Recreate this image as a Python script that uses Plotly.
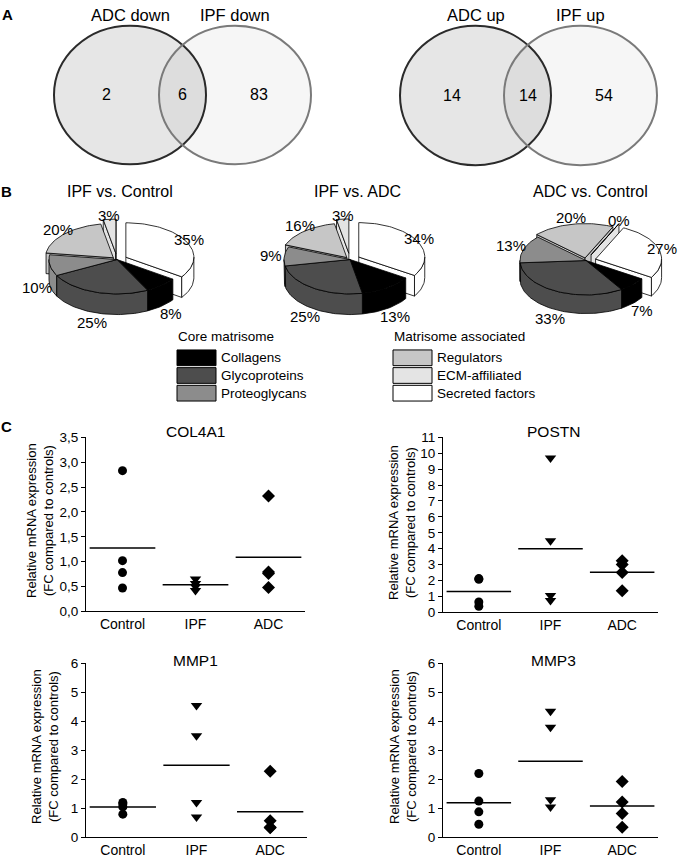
import math
import plotly.graph_objects as go

# ---------------- data ----------------
venn_labels_down = ["ADC down", "IPF down"]
venn_counts_down = [2, 6, 83]
venn_labels_up = ["ADC up", "IPF up"]
venn_counts_up = [14, 14, 54]

pie_titles = ["IPF vs. Control", "IPF vs. ADC", "ADC vs. Control"]
pie_categories = ["Secreted factors", "Collagens", "Glycoproteins",
                  "Proteoglycans", "Regulators", "ECM-affiliated"]
ipf_vs_control = [35, 8, 25, 10, 20, 3]
ipf_vs_adc = [34, 13, 25, 9, 16, 3]
adc_vs_control = [27, 7, 33, 13, 20, 0]
core_matrisome = ["Collagens", "Glycoproteins", "Proteoglycans"]
matrisome_associated = ["Regulators", "ECM-affiliated", "Secreted factors"]

groups = ["Control", "IPF", "ADC"]
col4a1_control = [2.83, 1.02, 0.78, 0.47]
col4a1_ipf = [0.65, 0.56, 0.50, 0.42]
col4a1_adc = [2.32, 0.79, 0.76, 0.48]
postn_control = [2.12, 2.08, 0.65, 0.38]
postn_ipf = [9.7, 4.5, 1.05, 0.75]
postn_adc = [3.25, 3.0, 2.5, 1.35]
mmp1_control = [1.2, 1.15, 1.05, 0.8]
mmp1_ipf = [4.55, 3.5, 1.2, 0.7]
mmp1_adc = [2.28, 0.57, 0.35, 0.33]
mmp3_control = [2.2, 1.25, 0.88, 0.45]
mmp3_ipf = [4.35, 3.8, 1.3, 1.05]
mmp3_adc = [1.93, 1.22, 0.82, 0.35]

# ---------------- style ----------------
FONT = "Liberation Sans, Arial, Helvetica, sans-serif"
W, H = 691, 864
cat_colors = {"Collagens": "#000000", "Glycoproteins": "#4d4d4d",
              "Proteoglycans": "#8c8c8c", "Regulators": "#c6c6c6",
              "ECM-affiliated": "#e4e4e4", "Secreted factors": "#ffffff"}
explode = {"Secreted factors": 10, "Regulators": 5, "ECM-affiliated": 12}

fig = go.Figure()
annotations = []
shapes = []


def ann(x, y, text, size=14, xanchor="center", bold=False, angle=0):
    annotations.append(dict(x=x, y=y, xref="x5", yref="y5", text=(f"<b>{text}</b>" if bold else text),
                            showarrow=False, xanchor=xanchor, yanchor="middle", textangle=angle,
                            font=dict(family=FONT, size=size, color="black")))


# ---------------- Venn diagrams ----------------
venn_specs = [
    (venn_labels_down, venn_counts_down, (54, 19, 206, 160), (159, 19, 311, 160)),
    (venn_labels_up, venn_counts_up, (400, 19, 551, 161), (504, 19, 657, 161)),
]
for labels, counts, c1, c2 in venn_specs:
    shapes.append(dict(type="circle", xref="x5", yref="y5", x0=c1[0], y0=c1[1], x1=c1[2], y1=c1[3],
                       fillcolor="#e6e6e6", line=dict(color="#2b2b2b", width=2), layer="below"))
    shapes.append(dict(type="circle", xref="x5", yref="y5", x0=c2[0], y0=c2[1], x1=c2[2], y1=c2[3],
                       fillcolor="rgba(0,0,0,0.035)", line=dict(color="#7a7a7a", width=2), layer="below"))
    cy = (c1[1] + c1[3]) / 2
    ann((c1[0] + c1[2]) / 2, 8, labels[0], 16.5)
    ann((c2[0] + c2[2]) / 2, 8, labels[1], 16.5)
    ann((c1[0] + c2[0]) / 2, cy, str(counts[0]), 16)
    ann((c2[0] + c1[2]) / 2, cy, str(counts[1]), 16)
    ann((c1[2] + c2[2]) / 2, cy, str(counts[2]), 16)

ann(7, 8, "A", 15, bold=True)
ann(6, 188, "B", 15, bold=True)
ann(6, 427, "C", 15, bold=True)


# ---------------- 3D pies ----------------
def add_poly(xs, ys, color):
    xs = list(xs) + [xs[0]]
    ys = list(ys) + [ys[0]]
    fig.add_trace(go.Scatter(x=xs, y=ys, xaxis="x5", yaxis="y5", mode="lines", fill="toself",
                             fillcolor=color, line=dict(color="black", width=0.8),
                             hoverinfo="skip", showlegend=False))


def arc_pts(ox, oy, rx, ry, a1, a2, dy=0.0):
    n = max(2, int(abs(a2 - a1) / 2) + 2)
    xs, ys = [], []
    for k in range(n):
        a = math.radians(a1 + (a2 - a1) * k / (n - 1))
        xs.append(ox + rx * math.sin(a))
        ys.append(oy - ry * math.cos(a) + dy)
    return xs, ys


pie_specs = [
    dict(cx=117, cy=257, rx=68, ry=35, depth=21, start=0, title=(120, 188)),
    dict(cx=350, cy=257, rx=66, ry=35, depth=21, start=0, title=(357, 188)),
    dict(cx=586, cy=258, rx=66, ry=35, depth=19, start=25, title=(590, 188)),
]
pie_values = [ipf_vs_control, ipf_vs_adc, adc_vs_control]

for title, values, sp in zip(pie_titles, pie_values, pie_specs):
    cx, cy, rx, ry, d = sp["cx"], sp["cy"], sp["rx"], sp["ry"], sp["depth"]
    total = float(sum(values))
    a = sp["start"]
    slices = []
    for cat, v in zip(pie_categories, values):
        a2 = a + 360.0 * v / total
        mid = (a + a2) / 2
        e = explode.get(cat, 0)
        ox = cx + e * math.sin(math.radians(mid))
        oy = cy - e * math.cos(math.radians(mid)) * ry / rx
        slices.append(dict(cat=cat, v=v, a1=a, a2=a2, mid=mid, ox=ox, oy=oy))
        a = a2
    # side walls, back to front
    for s in sorted(slices, key=lambda s: -math.cos(math.radians(s["mid"]))):
        col = cat_colors[s["cat"]]
        ox, oy = s["ox"], s["oy"]
        for b, nrm in ((s["a1"], s["a1"] - 90), (s["a2"], s["a2"] + 90)):
            if math.cos(math.radians(nrm - 180)) > 0:
                px = ox + rx * math.sin(math.radians(b))
                py = oy - ry * math.cos(math.radians(b))
                add_poly([ox, px, px, ox], [oy, py, py + d, oy + d], col)
        for k in (-360, 0, 360):
            lo, hi = max(s["a1"], 90 + k), min(s["a2"], 270 + k)
            if lo < hi:
                tx, ty = arc_pts(ox, oy, rx, ry, lo, hi)
                bx, by = arc_pts(ox, oy, rx, ry, hi, lo, d)
                add_poly(tx + bx, ty + by, col)
    # top faces
    for s in slices:
        tx, ty = arc_pts(s["ox"], s["oy"], rx, ry, s["a1"], s["a2"])
        add_poly([s["ox"]] + tx, [s["oy"]] + ty, cat_colors[s["cat"]])
    # labels
    for s in slices:
        m = math.radians(s["mid"])
        lx = cx + 1.2 * rx * math.sin(m)
        ly = cy - 1.28 * ry * math.cos(m) + (d if math.cos(m) < 0 else 0)
        ann(lx, ly, f"{s['v']}%", 15)
    ann(sp["title"][0], sp["title"][1], title, 16)

# pie legend
legend_cols = [("Core matrisome", core_matrisome, 176, 177, 216, 219),
               ("Matrisome associated", matrisome_associated, 392, 393, 432, 435)]
for head, cats, hx, bx0, bx1, tx in legend_cols:
    ann(hx, 335, head, 13.5, xanchor="left")
    for i, cat in enumerate(cats):
        y0 = 349 + i * 18
        shapes.append(dict(type="rect", xref="x5", yref="y5", x0=bx0, x1=bx1, y0=y0, y1=y0 + 16,
                           fillcolor=cat_colors[cat], line=dict(color="black", width=1)))
        ann(tx, y0 + 8, cat, 13.5, xanchor="left")

# ---------------- scatter panels ----------------
panels = [
    ("COL4A1", [col4a1_control, col4a1_ipf, col4a1_adc], (86, 305, 438, 615), 3.5, 0.5, ".1f", (40, 523), (195, 432)),
    ("POSTN", [postn_control, postn_ipf, postn_adc], (443, 658, 438, 616), 11, 1, "d", (402, 525), (553, 432)),
    ("MMP1", [mmp1_control, mmp1_ipf, mmp1_adc], (86, 307, 668, 845), 6, 1, "d", (45, 753), (195, 665)),
    ("MMP3", [mmp3_control, mmp3_ipf, mmp3_adc], (443, 658, 668, 845), 6, 1, "d", (403, 753), (553, 665)),
]
symbols = ["circle", "triangle-down", "diamond"]
msizes = [9, 10, 10]
layout_axes = {}
for idx, (name, series, box, ymax, dtick, fmt, ytpos, tpos) in enumerate(panels, start=1):
    xa, ya = f"x{idx}", f"y{idx}"
    for gi, vals in enumerate(series):
        fig.add_trace(go.Scatter(x=[gi] * len(vals), y=vals, xaxis=xa, yaxis=ya, mode="markers",
                                 marker=dict(symbol=symbols[gi], size=msizes[gi], color="black"),
                                 cliponaxis=False, showlegend=False, hoverinfo="skip"))
        mean = sum(vals) / len(vals)
        fig.add_trace(go.Scatter(x=[gi - 0.45, gi + 0.45], y=[mean, mean], xaxis=xa, yaxis=ya,
                                 mode="lines", line=dict(color="black", width=1.5),
                                 cliponaxis=False, showlegend=False, hoverinfo="skip"))
    x0, x1, y0, y1 = box
    layout_axes[f"xaxis{idx}"] = dict(domain=[x0 / W, x1 / W], range=[-0.5, 2.5], anchor=ya,
                                      tickvals=[0, 1, 2], ticktext=groups, ticks="", showline=True,
                                      linecolor="black", linewidth=1, showgrid=False, zeroline=False,
                                      tickfont=dict(family=FONT, size=14, color="black"), fixedrange=True)
    nt = int(round(ymax / dtick))
    layout_axes[f"yaxis{idx}"] = dict(domain=[1 - y1 / H, 1 - y0 / H], range=[0, ymax], anchor=xa,
                                      tickvals=[k * dtick for k in range(nt + 1)], tickformat=fmt,
                                      ticks="outside", ticklen=4, tickcolor="black", showline=True,
                                      linecolor="black", linewidth=1, showgrid=False, zeroline=False,
                                      tickfont=dict(family=FONT, size=13.5, color="black"), fixedrange=True)
    ann(ytpos[0], ytpos[1], "Relative mRNA expression<br>(FC compared to controls)", 13, angle=-90)
    ann(tpos[0], tpos[1], name, 15.5)

fig.update_layout(
    width=W, height=H, margin=dict(l=0, r=0, t=0, b=0),
    paper_bgcolor="white", plot_bgcolor="rgba(0,0,0,0)",
    separators=", ", showlegend=False,
    xaxis5=dict(domain=[0, 1], range=[0, W], anchor="y5", visible=False, fixedrange=True),
    yaxis5=dict(domain=[0, 1], range=[H, 0], anchor="x5", visible=False, fixedrange=True),
    annotations=annotations, shapes=shapes,
    **layout_axes,
)
fig.write_html("out.html", config={"displayModeBar": False},
               post_script="document.body.style.margin='0px';")
